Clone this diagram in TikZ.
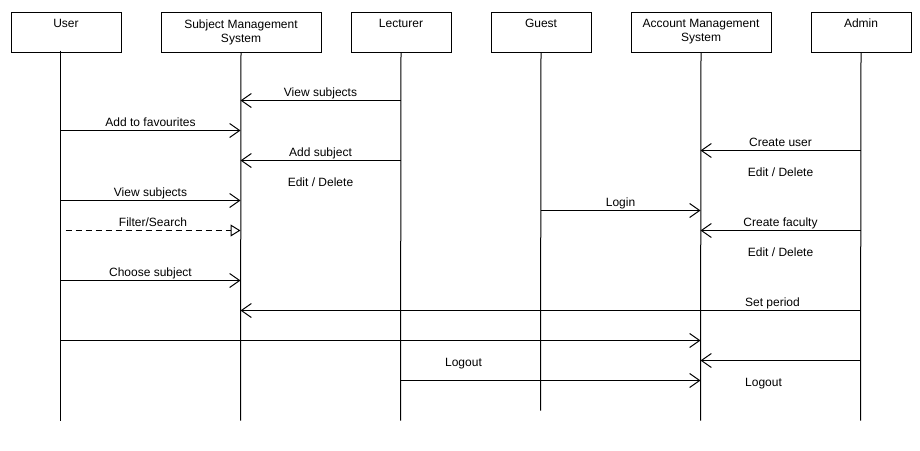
\documentclass[tikz,border=0pt]{standalone}
\usepackage{fontspec}
\setmainfont{Liberation Sans}
\usetikzlibrary{arrows.meta}
\begin{document}
\begin{tikzpicture}[x=0.75pt,y=-0.75pt,
  every node/.style={font=\fontsize{9}{10.5}\selectfont},
  actor/.style={draw,line width=0.75pt,minimum height=30pt,inner sep=0pt,align=center,anchor=north west},
  life/.style={line width=0.75pt},
  msg/.style={line width=0.75pt,-{Straight Barb[length=7.5pt,width=10.5pt,line width=0.75pt]}},
  dmsg/.style={line width=0.75pt,dash pattern=on 4.5pt off 3pt,-{Triangle[open,length=7.5pt,width=9pt,line width=0.75pt]}},
  lbl/.style={inner sep=0pt},
  mlbl/.style={inner sep=0pt,anchor=base,yshift=3pt}]
\useasboundingbox (0,0) rectangle (920,450);
\begin{scope}[shift={(0.5,0.5)}]
% actors
\node[actor,minimum width=82.5pt,yshift=-0.75pt] (user) at (10,10) {\raisebox{-0.75pt}{User}\\\strut};
\node[actor,minimum width=120pt,yshift=-0.75pt] (sms) at (160,10) {Subject Management\\System};
\node[actor,minimum width=75pt,yshift=-0.75pt] (lec) at (350,10) {\raisebox{-0.75pt}{Lecturer}\\\strut};
\node[actor,minimum width=75pt,yshift=-0.75pt] (guest) at (490,10) {\raisebox{-0.75pt}{Guest}\\\strut};
\node[actor,minimum width=105pt,yshift=-0.75pt] (ams) at (630,10) {Account Management\\System};
\node[actor,minimum width=75pt,yshift=-0.75pt] (admin) at (810,10) {\raisebox{-0.75pt}{Admin}\\\strut};
% lifeline points
\coordinate (userS) at (60,50);
\coordinate (userE) at (60,420);
\coordinate (smsE) at (240,420);
\coordinate (lecE) at (400,420);
\coordinate (guestE) at (540,410);
\coordinate (amsE) at (700,420);
\coordinate (adminE) at (860,420);
\draw[life] (userS) -- (userE);
\draw[life] (sms.south) -- (smsE);
\draw[life] (lec.south) -- (lecE);
\draw[life] (guest.south) -- (guestE);
\draw[life] (ams.south) -- (amsE);
\draw[life] (admin.south) -- (adminE);
% message points
\foreach \n/\x in {u/60,s/240,l/400,g/540,a/700,d/860}{
  \foreach \y in {100,130,150,160,200,210,230,280,310,340,360,380}{
    \coordinate (\n\y) at (\x,\y);
  }
}
\coordinate (uf230) at (65,230);
% messages
\draw[msg] (l100) -- node[mlbl] {View subjects} (s100);
\draw[msg] (u130) -- node[mlbl] {Add to favourites} (s130);
\draw[msg] (l160) -- node[mlbl] {Add subject} (s160);
\node[lbl] (ed1) at (320,182) {Edit / Delete};
\draw[msg] (u200) -- node[mlbl] {View subjects} (s200);
\draw[dmsg] (uf230) -- node[mlbl] {Filter/Search} (s230);
\draw[msg] (u280) -- node[mlbl] {Choose subject} (s280);
\draw[msg] (d150) -- node[mlbl] {Create user} (a150);
\node[lbl] (ed2) at (780,172) {Edit / Delete};
\draw[msg] (g210) -- node[mlbl] {Login} (a210);
\draw[msg] (d230) -- node[mlbl] {Create faculty} (a230);
\node[lbl] (ed3) at (780,252) {Edit / Delete};
\draw[msg] (d310) -- node[mlbl,pos=0.142] {Set period} (s310);
\draw[msg] (u340) -- (a340);
\draw[msg] (d360) -- (a360);
\draw[msg] (l380) -- (a380);
\node[lbl] (lo1) at (463,363) {Logout};
\node[lbl] (lo2) at (763,383) {Logout};
\end{scope}
\end{tikzpicture}
\end{document}
